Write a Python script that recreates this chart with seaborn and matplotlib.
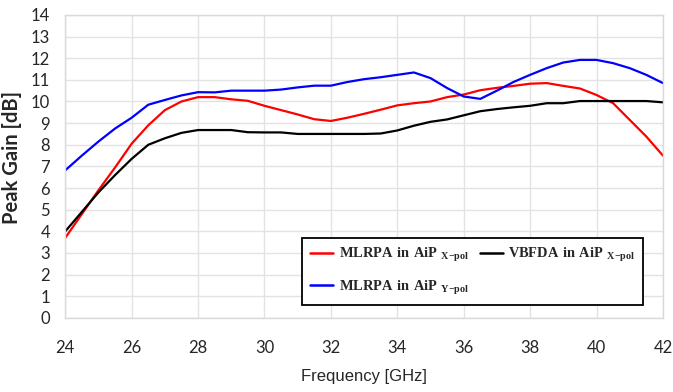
import pandas as pd
import numpy as np

import matplotlib
matplotlib.use("Agg")
import matplotlib.pyplot as plt
import seaborn as sns


# ==================================
# DATA
# ==================================

freq = [24, 24.5, 25, 25.5, 26, 26.5, 27, 27.5, 28, 28.5,
        29, 29.5, 30, 30.5, 31, 31.5, 32, 32.5, 33, 33.5,
        34, 34.5, 35, 35.5, 36, 36.5, 37, 37.5, 38, 38.5,
        39, 39.5, 40, 40.5, 41, 41.5, 42]

mlrpa_x = [3.7, 4.8, 5.9, 6.95, 8.05, 8.9, 9.6, 10.0, 10.2, 10.2,
           10.1, 10.03, 9.8, 9.6, 9.4, 9.18, 9.1, 9.25, 9.43, 9.62,
           9.82, 9.92, 10.0, 10.2, 10.32, 10.52, 10.63, 10.72, 10.82, 10.85,
           10.72, 10.6, 10.3, 9.92, 9.15, 8.38, 7.5]

mlrpa_y = [6.82, 7.5, 8.15, 8.75, 9.25, 9.85, 10.07, 10.28, 10.43, 10.42,
           10.5, 10.5, 10.5, 10.55, 10.65, 10.73, 10.73, 10.9, 11.03, 11.12,
           11.23, 11.34, 11.08, 10.62, 10.23, 10.12, 10.5, 10.9, 11.23, 11.54,
           11.8, 11.92, 11.92, 11.77, 11.54, 11.23, 10.85]

vbfda_x = [4.0, 4.9, 5.8, 6.6, 7.35, 8.0, 8.3, 8.55, 8.68, 8.68,
           8.68, 8.58, 8.57, 8.57, 8.5, 8.5, 8.5, 8.5, 8.5, 8.52,
           8.66, 8.88, 9.06, 9.17, 9.36, 9.55, 9.65, 9.73, 9.8, 9.92,
           9.92, 10.02, 10.02, 10.02, 10.02, 10.02, 9.96]

labels = [
    r"$\mathbf{MLRPA\ in\ AiP\ }_{\mathbf{X{-}pol}}$",
    r"$\mathbf{MLRPA\ in\ AiP\ }_{\mathbf{Y{-}pol}}$",
    r"$\mathbf{VBFDA\ in\ AiP\ }_{\mathbf{X{-}pol}}$",
]
colors = ["#ff0000", "#0000ff", "#000000"]

x_ticks = [24, 26, 28, 30, 32, 34, 36, 38, 40, 42]
y_ticks = list(range(0, 15))


# ==================================
# LONG FORM TABLE
# ==================================

df = pd.concat([
    pd.DataFrame({"freq": freq, "gain": vals, "series": lab})
    for vals, lab in zip([mlrpa_x, mlrpa_y, vbfda_x], labels)
])


# ==================================
# STYLE
# ==================================

sns.set_theme(style="whitegrid")
plt.rcParams["font.family"] = ["Lato", "DejaVu Sans"]
plt.rcParams["mathtext.fontset"] = "custom"
plt.rcParams["mathtext.rm"] = "Liberation Serif"
plt.rcParams["mathtext.bf"] = "Liberation Serif:bold"
plt.rcParams["grid.color"] = "#e3e3e3"
plt.rcParams["grid.linewidth"] = 1.0


# ==================================
# PLOT
# ==================================

fig = plt.figure(figsize=(6.73, 3.92), dpi=100)
ax = fig.add_axes([0.097, 0.189, 0.888, 0.773])

sns.lineplot(
    data=df,
    x="freq",
    y="gain",
    hue="series",
    hue_order=labels,
    palette=colors,
    linewidth=1.6,
    ax=ax
)

ax.set_xlim(24, 42)
ax.set_ylim(0, 14)
ax.set_xticks(x_ticks)
ax.set_yticks(y_ticks)

ax.tick_params(axis="x", labelsize=12, pad=16, length=0)
ax.tick_params(axis="y", labelsize=12, pad=11, length=0)

for s in ax.spines.values():
    s.set_color("#d9d9d9")
    s.set_linewidth(1.0)

ax.set_xlabel(
    "Frequency [GHz]",
    fontsize=12,
    family=["Liberation Sans", "DejaVu Sans"],
    labelpad=9
)
ax.set_ylabel(
    "Peak Gain [dB]",
    fontsize=14.5,
    fontweight="bold"
)
ax.yaxis.set_label_coords(-0.072, 0.531)

leg = ax.legend(
    ncol=2,
    loc="lower right",
    bbox_to_anchor=(0.9666, 0.043),
    borderaxespad=0,
    fontsize=10.4,
    frameon=True,
    fancybox=False,
    handlelength=1.6,
    handletextpad=0.35,
    columnspacing=0.75,
    borderpad=0.55,
    labelspacing=1.0,
    title=None
)
leg.get_frame().set_edgecolor("black")
leg.get_frame().set_linewidth(1.3)
leg.get_frame().set_alpha(1)
for line in leg.get_lines():
    line.set_linewidth(1.8)

plt.savefig("out.png", dpi=100)
